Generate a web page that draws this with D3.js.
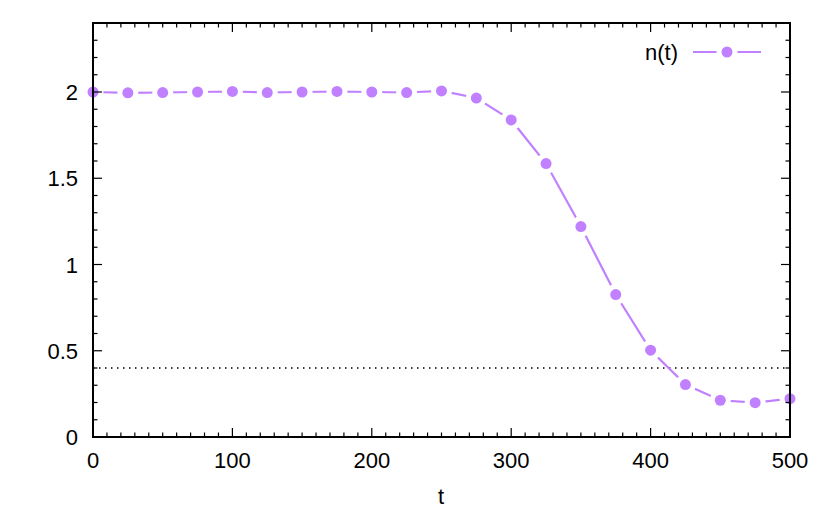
<!DOCTYPE html>
<html><head><meta charset="utf-8">
<script src="https://cdn.jsdelivr.net/npm/d3@7"></script>
<style>body{margin:0;background:#fff}svg{display:block}text{font-family:"Liberation Sans",Arial,sans-serif;fill:#000}</style>
</head><body>
<script>
const tValues = [0,25,50,75,100,125,150,175,200,225,250,275,300,325,350,375,400,425,450,475,500];
const nValues = [2.0,1.995,1.997,2.0,2.003,1.997,2.0,2.003,2.0,1.997,2.006,1.965,1.838,1.585,1.22,0.826,0.503,0.304,0.213,0.199,0.222];
const xTicks = [0,100,200,300,400,500];
const yTicks = [0,0.5,1,1.5,2];
const yTickLabels = ["0","0.5","1","1.5","2"];
const thresholdValue = 0.4;
const seriesName = "n(t)";
const xLabel = "t";

const W=830,H=514, L=93,R=790,T=23,B=437;
const color="#c080ff";
const FS=22;
const svg=d3.select("body").append("svg").attr("width",W).attr("height",H);
const x=d3.scaleLinear().domain([0,500]).range([L,R]);
const y=d3.scaleLinear().domain([0,2.4]).range([B,T]);

// threshold dotted line
svg.append("line").attr("x1",L).attr("x2",R).attr("y1",y(thresholdValue)).attr("y2",y(thresholdValue))
 .attr("stroke","#000").attr("stroke-width",1.5).attr("stroke-dasharray","1.5,4.5");

// mask for gaps around points
const defs=svg.append("defs");
const mask=defs.append("mask").attr("id","gapmask").attr("maskUnits","userSpaceOnUse")
 .attr("x",0).attr("y",0).attr("width",W).attr("height",H);
mask.append("rect").attr("width",W).attr("height",H).attr("fill","#fff");
mask.selectAll("circle").data(tValues).join("circle")
 .attr("cx",(d)=>x(d)).attr("cy",(d,i)=>y(nValues[i])).attr("r",10.5).attr("fill","#000");
mask.append("circle").attr("cx",727).attr("cy",52).attr("r",10.5).attr("fill","#000");

const pts=tValues.map((t,i)=>[t,nValues[i]]);
const line=d3.line().x(d=>x(d[0])).y(d=>y(d[1]));
const g=svg.append("g").attr("mask","url(#gapmask)");
g.append("path").attr("d",line(pts)).attr("fill","none").attr("stroke",color).attr("stroke-width",2.2);
g.append("line").attr("x1",693).attr("x2",761).attr("y1",52).attr("y2",52).attr("stroke",color).attr("stroke-width",2.2);

svg.selectAll("circle.pt").data(pts).join("circle").attr("class","pt")
 .attr("cx",d=>x(d[0])).attr("cy",d=>y(d[1])).attr("r",5.5).attr("fill",color);
svg.append("circle").attr("cx",727).attr("cy",52).attr("r",5.5).attr("fill",color);
svg.append("text").attr("x",678).attr("y",60).attr("text-anchor","end").attr("font-size",FS).text(seriesName);

// axes frame & ticks
const ax=svg.append("g").attr("stroke","#000").attr("stroke-width",1.2);
d3.range(0,501,10).forEach(v=>{
  const major=v%100===0, len=major?9:4.5;
  ax.append("line").attr("x1",x(v)).attr("x2",x(v)).attr("y1",B).attr("y2",B-len);
  ax.append("line").attr("x1",x(v)).attr("x2",x(v)).attr("y1",T).attr("y2",T+len);
});
d3.range(0,25).forEach(k=>{
  const v=k/10, major=k%5===0, len=major?9:4.5;
  ax.append("line").attr("y1",y(v)).attr("y2",y(v)).attr("x1",L).attr("x2",L+len);
  ax.append("line").attr("y1",y(v)).attr("y2",y(v)).attr("x1",R).attr("x2",R-len);
});
svg.append("rect").attr("x",L).attr("y",T).attr("width",R-L).attr("height",B-T)
 .attr("fill","none").attr("stroke","#000").attr("stroke-width",2);

svg.selectAll("text.xt").data(xTicks).join("text").attr("class","xt")
 .attr("x",d=>x(d)).attr("y",468).attr("text-anchor","middle").attr("font-size",FS).text(d=>d);
svg.selectAll("text.yt").data(yTicks).join("text").attr("class","yt")
 .attr("x",78).attr("y",d=>y(d)+8).attr("text-anchor","end").attr("font-size",FS).text((d,i)=>yTickLabels[i]);
svg.append("text").attr("x",(L+R)/2-0.5).attr("y",504).attr("text-anchor","middle").attr("font-size",FS).text(xLabel);
</script>
</body></html>
